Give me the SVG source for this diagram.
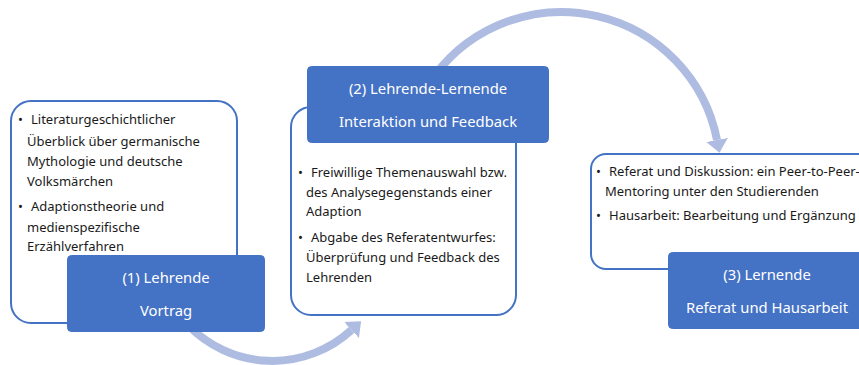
<svg xmlns="http://www.w3.org/2000/svg" width="859" height="365" viewBox="0 0 859 365">
<style>
.outline{fill:#ffffff;stroke:#4472C4;stroke-width:2}
.head{fill:#4472C4;stroke:#4472C4;stroke-width:1}
.ht{font-family:"Noto Sans","Open Sans","Liberation Sans",sans-serif;font-size:14.8px;fill:#ffffff;text-anchor:middle}
.bt{font-family:"Noto Sans","Open Sans","Liberation Sans",sans-serif;font-size:13px;fill:#1a1a1a}
.arc{fill:none;stroke:#AFBCE2;stroke-width:8}
</style>
<defs>
<marker id="ah" markerUnits="userSpaceOnUse" viewBox="0 0 13 22" refX="0" refY="11" markerWidth="13" markerHeight="22" orient="auto">
<path d="M0,0 L13,11 L0,22 z" fill="#AFBCE2"/>
</marker>
</defs>
<rect width="859" height="365" fill="#ffffff"/>
<g id="connectors">
<path class="arc" d="M188,325 A117,117 0 0 0 351.5,330" marker-end="url(#ah)"/>
<path class="arc" d="M435,75 A158.5,158.5 0 0 1 717,140" marker-end="url(#ah)"/>
</g>
<g id="node1">
<rect class="outline" x="11" y="101" width="226" height="222" rx="20"/>
<text class="bt" x="18" y="124">•</text>
<text class="bt" x="31" y="124">Literaturgeschichtlicher</text>
<text class="bt" x="27" y="146">Überblick über germanische</text>
<text class="bt" x="27" y="166">Mythologie und deutsche</text>
<text class="bt" x="27" y="186">Volksmärchen</text>
<text class="bt" x="18" y="211">•</text>
<text class="bt" x="31" y="211">Adaptionstheorie und</text>
<text class="bt" x="27" y="232">medienspezifische</text>
<text class="bt" x="27" y="251">Erzählverfahren</text>
<rect class="head" x="67.5" y="255.5" width="197" height="76" rx="4"/>
<text class="ht" x="166" y="283">(1) Lehrende</text>
<text class="ht" x="166" y="316">Vortrag</text>
</g>
<g id="node2">
<rect class="outline" x="291" y="107" width="225" height="208" rx="20"/>
<text class="bt" x="298" y="177">•</text>
<text class="bt" x="311" y="177">Freiwillige Themenauswahl bzw.</text>
<text class="bt" x="306" y="197">des Analysegegenstands einer</text>
<text class="bt" x="306" y="216">Adaption</text>
<text class="bt" x="298" y="242">•</text>
<text class="bt" x="311" y="242">Abgabe des Referatentwurfes:</text>
<text class="bt" x="306" y="262">Überprüfung und Feedback des</text>
<text class="bt" x="306" y="282">Lehrenden</text>
<rect class="head" x="307.5" y="66.5" width="241" height="76" rx="4"/>
<text class="ht" x="428" y="94">(2) Lehrende-Lernende</text>
<text class="ht" x="428" y="127">Interaktion und Feedback</text>
</g>
<g id="node3">
<rect class="outline" x="591" y="154" width="300" height="115" rx="15"/>
<text class="bt" x="596" y="176">•</text>
<text class="bt" x="609" y="176">Referat und Diskussion: ein Peer-to-Peer-</text>
<text class="bt" x="605" y="196">Mentoring unter den Studierenden</text>
<text class="bt" x="596" y="220">•</text>
<text class="bt" x="609" y="220">Hausarbeit: Bearbeitung und Ergänzung</text>
<rect class="head" x="668.5" y="252.5" width="202" height="76" rx="4"/>
<text class="ht" x="767" y="280">(3) Lernende</text>
<text class="ht" x="767" y="313">Referat und Hausarbeit</text>
</g>
</svg>
